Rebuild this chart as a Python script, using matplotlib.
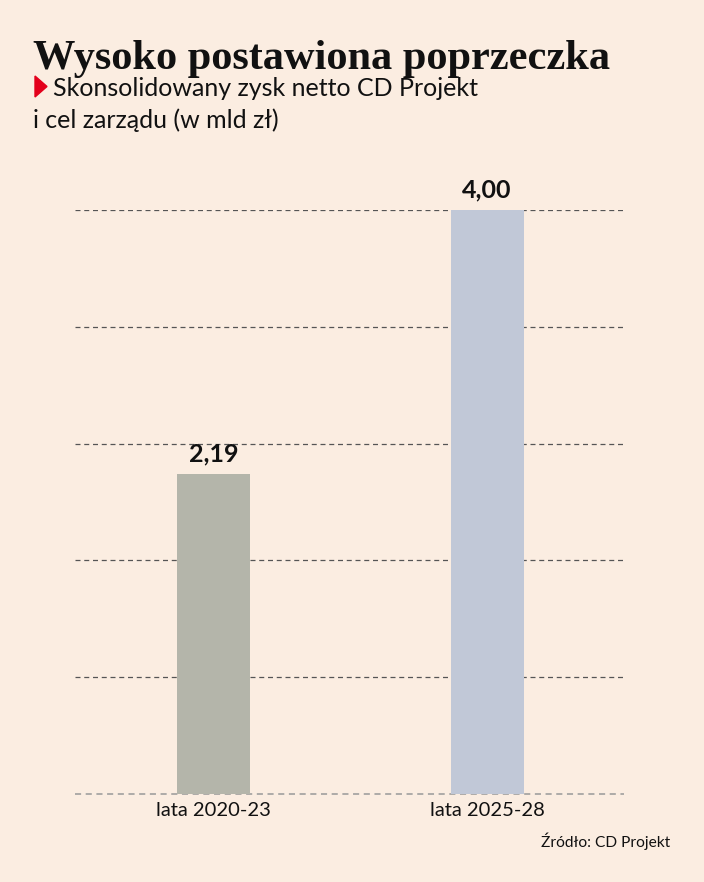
import matplotlib.pyplot as plt
from matplotlib.patches import Polygon

categories = ["lata 2020-23", "lata 2025-28"]
values = [2.19, 4.00]
value_labels = ["2,19", "4,00"]
bar_colors = ["#b4b5aa", "#c1c8d7"]
grid_ticks = [0.8, 1.6, 2.4, 3.2, 4.0]

bg = "#fbede1"
plt.rcParams['font.family'] = ['Lato', 'DejaVu Sans']

fig = plt.figure(figsize=(7.04, 8.82), dpi=100, facecolor=bg)
ax = fig.add_axes([75/704, 88/882, 549/704, 584/882])
ax.set_facecolor(bg)

x = list(range(len(categories)))
ax.bar(x, values, width=0.266, color=bar_colors, zorder=2)

for t in grid_ticks:
    ax.axhline(t, color="#555555", lw=0.9, ls=(0, (4, 3)), zorder=1)
# lighter baseline, hidden behind the bars
ax.axhline(0, color="#999999", lw=1.1, ls=(0, (4, 3)), zorder=1,
           clip_on=False)

for xi, v, lab in zip(x, values, value_labels):
    ax.text(xi, v + 0.06, lab, ha="center", va="bottom", fontsize=18,
            fontweight="bold", color="#111111")

ax.set_xlim(-0.505, 1.5)
ax.set_ylim(0, 4.0)
ax.set_xticks(x)
ax.set_xticklabels(categories, fontsize=14.5, color="#111111")
ax.tick_params(axis="x", length=0, pad=6)
ax.set_yticks([])
for s in ax.spines.values():
    s.set_visible(False)

fig.text(33/704, 1 - 69/882, "Wysoko postawiona poprzeczka", fontsize=30.5,
         fontweight="bold", family="Liberation Serif", color="#111111")
# red marker before the subtitle
fig.patches.append(Polygon([(35/704, 1 - 76/882), (35/704, 1 - 97/882),
                            (47/704, 1 - 86.5/882)], closed=True,
                           transform=fig.transFigure, color="#e3001b"))
fig.text(53/704, 1 - 96/882, "Skonsolidowany zysk netto CD Projekt",
         fontsize=18, color="#111111")
fig.text(33/704, 1 - 128/882, "i cel zarządu (w mld zł)",
         fontsize=18, color="#111111")
fig.text(670/704, 1 - 847/882, "Źródło: CD Projekt", fontsize=11.2,
         ha="right", color="#111111")

fig.savefig("out.png", dpi=100, facecolor=bg)
